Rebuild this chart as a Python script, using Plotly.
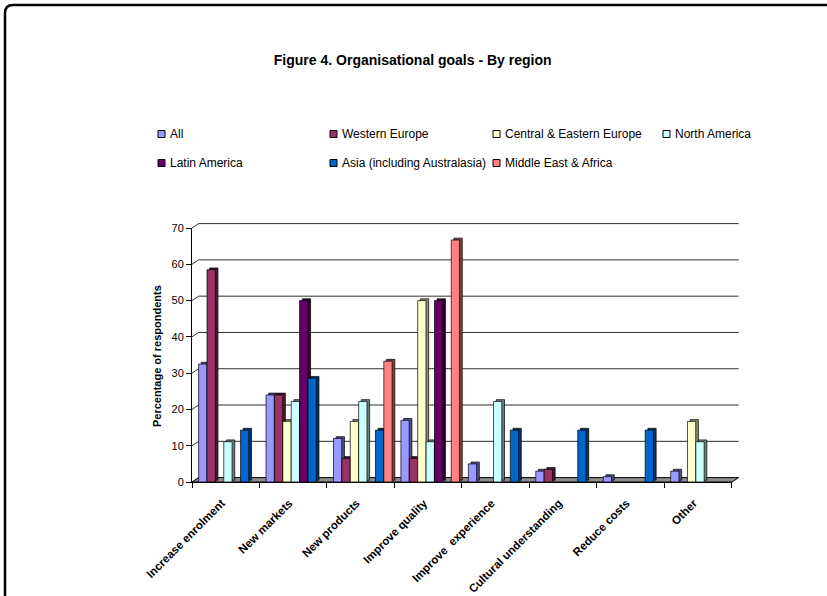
import plotly.graph_objects as go

# ---------------- data ----------------
categories = ["Increase enrolment", "New markets", "New products", "Improve quality",
              "Improve \u00a0experience", "Cultural understanding", "Reduce costs", "Other"]
series_names = ["All", "Western Europe", "Central & Eastern Europe", "North America",
                "Latin America", "Asia (including Australasia)", "Middle East & Africa"]
all_vals = [32.5, 24, 12, 17, 5, 3, 1.5, 3]
western_europe = [58.5, 24, 6.5, 6.5, None, 3.5, None, None]
central_eastern_europe = [None, 16.7, 16.7, 50, None, None, None, 16.7]
north_america = [11.1, 22.2, 22.2, 11.1, 22.2, None, None, 11.1]
latin_america = [None, 50, None, 50, None, None, None, None]
asia = [14.3, 28.6, 14.3, None, 14.3, 14.3, 14.3, None]
middle_east_africa = [None, None, 33.3, 66.7, None, None, None, None]
y_ticks = [0, 10, 20, 30, 40, 50, 60, 70]

series_values = [all_vals, western_europe, central_eastern_europe, north_america,
                 latin_america, asia, middle_east_africa]

# ---------------- styles ----------------
front_colors = ["#9999FF", "#993366", "#FFFFCC", "#CCFFFF", "#660066", "#0066CC", "#FF8080"]
side_colors = ["#4D4D80", "#4D1A33", "#8C8C70", "#668080", "#330033", "#003366", "#804040"]

W, H = 827, 596
ML, MR, MT, MB = 192, 95, 228, 114
PW, PH = W - ML - MR, H - MT - MB
YMAX = 70
FONT = "Liberation Sans, Arial, sans-serif"

cat_px = PW / len(categories)
bar_w_px, pitch_px, first_px = 8.3, 8.4, 6.6
depth_bar_px = (2.7, 1.8)
depth_wall_px = (6.6, 4.4)


def px_x(px):
    return (px - ML) / PW


def px_y(py):
    return (H - MB - py) / PH


fig = go.Figure()

bar_w = bar_w_px / cat_px
dxb = depth_bar_px[0] / cat_px
dyb = depth_bar_px[1] / PH * YMAX

# side / top faces (drawn first)
for i, (name, vals) in enumerate(zip(series_names, series_values)):
    off = -0.5 + (first_px + i * pitch_px) / cat_px
    fig.add_trace(go.Bar(
        x=categories, y=vals, base=dyb, offset=off + dxb, width=bar_w,
        marker=dict(color=side_colors[i], line=dict(color="#000000", width=0.7)),
        showlegend=False, hoverinfo="skip", name=name + " depth"))

# front faces
for i, (name, vals) in enumerate(zip(series_names, series_values)):
    off = -0.5 + (first_px + i * pitch_px) / cat_px
    fig.add_trace(go.Bar(
        x=categories, y=vals, offset=off, width=bar_w, name=name,
        marker=dict(color=front_colors[i], line=dict(color="#000000", width=0.7)),
        showlegend=False))

shapes = []
dxw = depth_wall_px[0] / PW
dyw = depth_wall_px[1] / PH

# floor
shapes.append(dict(type="path", xref="paper", yref="paper", layer="below",
                   path=f"M0,0 L1,0 L{1+dxw},{dyw} L{dxw},{dyw} Z",
                   fillcolor="#8C8C8C", line=dict(color="#000000", width=1)))
# gridlines on back wall with diagonal connectors
for v in y_ticks[1:]:
    yp = v / YMAX
    shapes.append(dict(type="line", xref="paper", yref="paper", layer="below",
                       x0=dxw, x1=1 + dxw, y0=yp + dyw, y1=yp + dyw,
                       line=dict(color="#303030", width=1)))
    shapes.append(dict(type="line", xref="paper", yref="paper", layer="below",
                       x0=0, x1=dxw, y0=yp, y1=yp + dyw,
                       line=dict(color="#303030", width=1)))

# outer rounded border (chart area continues beyond the right and bottom edges)
bx0, bx1, by0, by1, r = 5, 840, 5, 612, 8
rx, ry = r / PW, r / PH
X0, X1, Y0, Y1 = px_x(bx0), px_x(bx1), px_y(by1), px_y(by0)
shapes.append(dict(
    type="path", xref="paper", yref="paper", layer="below",
    path=(f"M{X0+rx},{Y1} L{X1-rx},{Y1} Q{X1},{Y1} {X1},{Y1-ry} "
          f"L{X1},{Y0+ry} Q{X1},{Y0} {X1-rx},{Y0} L{X0+rx},{Y0} "
          f"Q{X0},{Y0} {X0},{Y0+ry} L{X0},{Y1-ry} Q{X0},{Y1} {X0+rx},{Y1} Z"),
    line=dict(color="#000000", width=2.5)))

# manual legend
leg_cols = [158, 330, 493, 663]
leg_rows = [134, 163]
annotations = []
sq = 7
for i, name in enumerate(series_names):
    cx = leg_cols[i % 4]
    cy = leg_rows[i // 4]
    shapes.append(dict(type="rect", xref="paper", yref="paper",
                       x0=px_x(cx), x1=px_x(cx + sq), y0=px_y(cy + sq / 2), y1=px_y(cy - sq / 2),
                       fillcolor=front_colors[i], line=dict(color="#000000", width=1)))
    annotations.append(dict(xref="paper", yref="paper", x=px_x(cx + sq + 3), y=px_y(cy),
                            xanchor="left", yanchor="middle", showarrow=False,
                            text=name, font=dict(family=FONT, size=12, color="#000000")))

# y-axis title
annotations.append(dict(xref="paper", yref="paper", x=px_x(157), y=px_y(356),
                        xanchor="center", yanchor="middle", showarrow=False, textangle=-90,
                        text="<b>Percentage of respondents</b>",
                        font=dict(family=FONT, size=11, color="#000000")))

fig.update_layout(
    width=W, height=H,
    margin=dict(l=ML, r=MR, t=MT, b=MB, autoexpand=False),
    paper_bgcolor="#FFFFFF", plot_bgcolor="rgba(0,0,0,0)",
    barmode="overlay",
    showlegend=False,
    title=dict(text="<b>Figure 4. Organisational goals - By region</b>",
               x=0.499, xref="container", xanchor="center",
               y=1 - 60 / H, yref="container", yanchor="middle",
               font=dict(family=FONT, size=14, color="#000000")),
    font=dict(family=FONT, size=11, color="#000000"),
    shapes=shapes, annotations=annotations,
    xaxis=dict(type="category", categoryorder="array", categoryarray=categories,
               showline=True, linecolor="#000000", linewidth=1,
               ticks="outside", ticklen=5, tickcolor="#000000", tickson="boundaries",
               tickangle=-45, showgrid=False, zeroline=False,
               ticklabelstandoff=9, ticklabelshift=-4,
               tickfont=dict(family=FONT, size=11.5, color="#000000", weight="bold")),
    yaxis=dict(range=[0, YMAX], tickvals=y_ticks, showline=True, linecolor="#000000",
               linewidth=1, ticks="outside", ticklen=5, tickcolor="#000000",
               showgrid=False, zeroline=False,
               tickfont=dict(family=FONT, size=11, color="#000000")),
)

fig.write_html("out.html")
